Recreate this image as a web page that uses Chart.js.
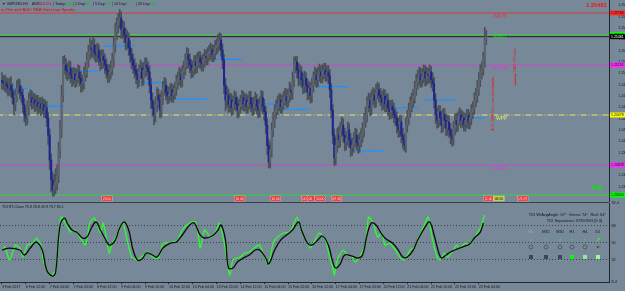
<!DOCTYPE html>
<html><head><meta charset="utf-8">
<script src="https://cdn.jsdelivr.net/npm/chart.js@4.4.1/dist/chart.umd.min.js"></script>
<style>
html,body{margin:0;padding:0;background:#778899;width:625px;height:291px;overflow:hidden}
#main{position:absolute;left:0;top:0}
#sub{position:absolute;left:0;top:196px}
</style></head><body>
<canvas id="main" width="625" height="202" style="width:625px;height:202px"></canvas>
<canvas id="sub" width="625" height="95" style="width:625px;height:95px"></canvas>
<script>
// ---------------- DATA (GBPUSD H1) ----------------
const opens = [
1.2492,1.2490,1.2488,1.2489,1.2485,1.2482,1.2486,1.2480,1.2470,1.2461,
1.2473,1.2482,1.2485,1.2477,1.2473,1.2461,1.2448,1.2444,1.2457,1.2467,
1.2470,1.2464,1.2467,1.2462,1.2464,1.2459,1.2462,1.2457,1.2461,1.2454,
1.2457,1.2444,1.2422,1.2390,1.2365,1.2352,1.2358,1.2362,1.2371,1.2403,
1.2429,1.2473,1.2512,1.2512,1.2505,1.2503,1.2508,1.2499,1.2495,1.2500,
1.2493,1.2498,1.2503,1.2495,1.2488,1.2490,1.2500,1.2505,1.2518,1.2528,
1.2534,1.2531,1.2537,1.2528,1.2525,1.2531,1.2521,1.2516,1.2523,1.2518,
1.2512,1.2505,1.2499,1.2503,1.2508,1.2518,1.2537,1.2554,1.2563,1.2569,
1.2572,1.2557,1.2559,1.2550,1.2541,1.2546,1.2534,1.2525,1.2518,1.2511,
1.2505,1.2499,1.2493,1.2503,1.2508,1.2495,1.2505,1.2512,1.2508,1.2503,
1.2486,1.2467,1.2457,1.2448,1.2461,1.2473,1.2467,1.2454,1.2470,1.2482,
1.2486,1.2477,1.2472,1.2475,1.2480,1.2473,1.2477,1.2482,1.2490,1.2495,
1.2499,1.2493,1.2503,1.2508,1.2516,1.2525,1.2518,1.2512,1.2505,1.2508,
1.2516,1.2511,1.2518,1.2521,1.2516,1.2513,1.2518,1.2523,1.2521,1.2526,
1.2528,1.2531,1.2525,1.2528,1.2534,1.2537,1.2541,1.2544,1.2531,1.2518,
1.2486,1.2467,1.2473,1.2461,1.2467,1.2457,1.2464,1.2470,1.2462,1.2454,
1.2459,1.2464,1.2470,1.2462,1.2467,1.2459,1.2464,1.2470,1.2462,1.2457,
1.2462,1.2467,1.2459,1.2454,1.2462,1.2470,1.2459,1.2452,1.2435,1.2409,
1.2388,1.2403,1.2429,1.2441,1.2452,1.2457,1.2462,1.2467,1.2459,1.2464,
1.2470,1.2472,1.2467,1.2473,1.2480,1.2477,1.2493,1.2512,1.2516,1.2505,
1.2495,1.2503,1.2493,1.2485,1.2495,1.2486,1.2477,1.2482,1.2473,1.2486,
1.2495,1.2499,1.2493,1.2500,1.2503,1.2498,1.2503,1.2505,1.2500,1.2503,
1.2498,1.2480,1.2454,1.2422,1.2393,1.2409,1.2422,1.2416,1.2429,1.2435,
1.2422,1.2413,1.2418,1.2429,1.2416,1.2406,1.2409,1.2416,1.2422,1.2413,
1.2409,1.2416,1.2422,1.2429,1.2441,1.2448,1.2461,1.2467,1.2457,1.2470,
1.2473,1.2467,1.2477,1.2480,1.2473,1.2470,1.2464,1.2472,1.2462,1.2467,
1.2457,1.2452,1.2459,1.2454,1.2448,1.2444,1.2435,1.2429,1.2439,1.2422,
1.2416,1.2409,1.2435,1.2444,1.2454,1.2461,1.2467,1.2472,1.2482,1.2490,
1.2495,1.2499,1.2493,1.2498,1.2503,1.2495,1.2500,1.2498,1.2503,1.2493,
1.2488,1.2467,1.2448,1.2441,1.2452,1.2444,1.2435,1.2448,1.2441,1.2431,
1.2439,1.2429,1.2422,1.2418,1.2431,1.2441,1.2436,1.2444,1.2448,1.2441,
1.2444,1.2436,1.2441,1.2447,1.2439,1.2444,1.2452,1.2457,1.2467,1.2473,
1.2482,1.2493,1.2503,1.2508,1.2518,1.2544];
const highs = [
1.2502,1.2498,1.2499,1.2496,1.2494,1.2495,1.2497,1.2488,1.2478,1.2481,
1.2492,1.2494,1.2493,1.2485,1.2481,1.2469,1.2457,1.2466,1.2476,1.2480,
1.2479,1.2476,1.2475,1.2473,1.2473,1.2470,1.2470,1.2471,1.2468,1.2467,
1.2465,1.2451,1.2430,1.2398,1.2375,1.2372,1.2379,1.2384,1.2413,1.2441,
1.2486,1.2523,1.2524,1.2520,1.2514,1.2517,1.2516,1.2508,1.2509,1.2508,
1.2507,1.2512,1.2511,1.2503,1.2499,1.2509,1.2515,1.2528,1.2537,1.2546,
1.2543,1.2548,1.2545,1.2538,1.2540,1.2538,1.2530,1.2532,1.2531,1.2526,
1.2520,1.2513,1.2512,1.2517,1.2527,1.2547,1.2565,1.2572,1.2578,1.2583,
1.2580,1.2569,1.2567,1.2559,1.2556,1.2553,1.2543,1.2533,1.2526,1.2520,
1.2514,1.2507,1.2512,1.2518,1.2515,1.2515,1.2521,1.2521,1.2516,1.2511,
1.2495,1.2476,1.2465,1.2471,1.2483,1.2481,1.2475,1.2479,1.2491,1.2496,
1.2494,1.2485,1.2484,1.2488,1.2488,1.2486,1.2490,1.2499,1.2503,1.2509,
1.2507,1.2511,1.2517,1.2526,1.2534,1.2533,1.2526,1.2519,1.2517,1.2524,
1.2524,1.2527,1.2529,1.2529,1.2524,1.2526,1.2532,1.2531,1.2534,1.2537,
1.2540,1.2538,1.2537,1.2543,1.2545,1.2551,1.2553,1.2552,1.2539,1.2525,
1.2495,1.2484,1.2481,1.2476,1.2475,1.2472,1.2479,1.2477,1.2471,1.2468,
1.2473,1.2479,1.2478,1.2475,1.2475,1.2473,1.2478,1.2478,1.2470,1.2471,
1.2477,1.2474,1.2468,1.2471,1.2479,1.2478,1.2468,1.2459,1.2443,1.2417,
1.2413,1.2438,1.2451,1.2461,1.2467,1.2472,1.2475,1.2475,1.2473,1.2478,
1.2482,1.2481,1.2481,1.2490,1.2488,1.2503,1.2522,1.2523,1.2523,1.2514,
1.2512,1.2510,1.2501,1.2504,1.2502,1.2494,1.2491,1.2489,1.2495,1.2503,
1.2509,1.2507,1.2509,1.2513,1.2511,1.2512,1.2514,1.2514,1.2511,1.2511,
1.2506,1.2488,1.2461,1.2430,1.2419,1.2431,1.2433,1.2438,1.2445,1.2443,
1.2431,1.2427,1.2439,1.2437,1.2424,1.2418,1.2425,1.2431,1.2430,1.2422,
1.2425,1.2430,1.2438,1.2450,1.2458,1.2471,1.2476,1.2475,1.2479,1.2483,
1.2481,1.2487,1.2490,1.2488,1.2482,1.2478,1.2481,1.2480,1.2475,1.2475,
1.2466,1.2467,1.2467,1.2463,1.2456,1.2452,1.2444,1.2447,1.2447,1.2431,
1.2424,1.2444,1.2454,1.2463,1.2471,1.2476,1.2481,1.2491,1.2500,1.2505,
1.2509,1.2508,1.2507,1.2512,1.2511,1.2509,1.2508,1.2512,1.2510,1.2502,
1.2496,1.2475,1.2457,1.2460,1.2460,1.2453,1.2456,1.2456,1.2449,1.2447,
1.2447,1.2437,1.2430,1.2440,1.2449,1.2450,1.2452,1.2457,1.2455,1.2453,
1.2451,1.2450,1.2455,1.2455,1.2452,1.2461,1.2465,1.2476,1.2482,1.2492,
1.2502,1.2512,1.2516,1.2528,1.2560,1.2556];
const lows = [
1.2481,1.2480,1.2478,1.2476,1.2472,1.2473,1.2471,1.2462,1.2448,1.2453,
1.2465,1.2475,1.2468,1.2464,1.2451,1.2439,1.2434,1.2436,1.2448,1.2459,
1.2455,1.2456,1.2452,1.2453,1.2449,1.2451,1.2447,1.2449,1.2445,1.2444,
1.2433,1.2410,1.2378,1.2350,1.2344,1.2344,1.2347,1.2352,1.2361,1.2393,
1.2419,1.2465,1.2500,1.2494,1.2492,1.2494,1.2489,1.2484,1.2486,1.2483,
1.2484,1.2489,1.2485,1.2477,1.2478,1.2481,1.2491,1.2496,1.2509,1.2519,
1.2521,1.2522,1.2518,1.2515,1.2516,1.2511,1.2505,1.2507,1.2508,1.2501,
1.2495,1.2489,1.2490,1.2494,1.2499,1.2509,1.2528,1.2544,1.2553,1.2559,
1.2546,1.2546,1.2540,1.2531,1.2532,1.2524,1.2515,1.2507,1.2501,1.2495,
1.2488,1.2482,1.2484,1.2494,1.2485,1.2486,1.2496,1.2498,1.2493,1.2476,
1.2456,1.2446,1.2435,1.2439,1.2452,1.2457,1.2444,1.2445,1.2461,1.2473,
1.2467,1.2462,1.2463,1.2466,1.2464,1.2464,1.2468,1.2473,1.2481,1.2486,
1.2483,1.2484,1.2494,1.2499,1.2507,1.2508,1.2502,1.2495,1.2496,1.2499,
1.2501,1.2502,1.2509,1.2507,1.2504,1.2504,1.2509,1.2512,1.2512,1.2517,
1.2519,1.2516,1.2516,1.2519,1.2525,1.2528,1.2531,1.2522,1.2507,1.2475,
1.2453,1.2457,1.2451,1.2452,1.2447,1.2448,1.2455,1.2453,1.2444,1.2445,
1.2450,1.2455,1.2453,1.2453,1.2450,1.2450,1.2455,1.2452,1.2447,1.2448,
1.2453,1.2449,1.2444,1.2445,1.2453,1.2449,1.2441,1.2424,1.2397,1.2380,
1.2380,1.2394,1.2420,1.2432,1.2443,1.2448,1.2453,1.2450,1.2450,1.2455,
1.2461,1.2457,1.2458,1.2464,1.2467,1.2468,1.2484,1.2502,1.2495,1.2485,
1.2486,1.2483,1.2475,1.2476,1.2477,1.2467,1.2468,1.2463,1.2464,1.2477,
1.2486,1.2483,1.2484,1.2491,1.2489,1.2489,1.2494,1.2491,1.2491,1.2488,
1.2470,1.2444,1.2411,1.2383,1.2384,1.2400,1.2406,1.2407,1.2420,1.2413,
1.2402,1.2403,1.2409,1.2406,1.2395,1.2396,1.2400,1.2407,1.2403,1.2399,
1.2400,1.2407,1.2413,1.2420,1.2432,1.2439,1.2452,1.2447,1.2448,1.2461,
1.2457,1.2458,1.2468,1.2464,1.2460,1.2454,1.2455,1.2452,1.2452,1.2447,
1.2442,1.2443,1.2444,1.2438,1.2434,1.2425,1.2419,1.2420,1.2412,1.2405,
1.2402,1.2400,1.2426,1.2435,1.2445,1.2452,1.2458,1.2463,1.2473,1.2481,
1.2486,1.2483,1.2484,1.2489,1.2485,1.2486,1.2488,1.2489,1.2483,1.2478,
1.2457,1.2437,1.2431,1.2432,1.2434,1.2425,1.2426,1.2431,1.2421,1.2422,
1.2419,1.2411,1.2408,1.2409,1.2422,1.2426,1.2427,1.2435,1.2432,1.2432,
1.2427,1.2427,1.2432,1.2430,1.2430,1.2435,1.2443,1.2448,1.2458,1.2464,
1.2473,1.2484,1.2494,1.2499,1.2509,1.2538];
const closes = [
1.2490,1.2488,1.2489,1.2485,1.2482,1.2486,1.2480,1.2470,1.2461,1.2473,
1.2482,1.2485,1.2477,1.2473,1.2461,1.2448,1.2444,1.2457,1.2467,1.2470,
1.2464,1.2467,1.2462,1.2464,1.2459,1.2462,1.2457,1.2461,1.2454,1.2457,
1.2444,1.2422,1.2390,1.2365,1.2352,1.2358,1.2362,1.2371,1.2403,1.2429,
1.2473,1.2512,1.2512,1.2505,1.2503,1.2508,1.2499,1.2495,1.2500,1.2493,
1.2498,1.2503,1.2495,1.2488,1.2490,1.2500,1.2505,1.2518,1.2528,1.2534,
1.2531,1.2537,1.2528,1.2525,1.2531,1.2521,1.2516,1.2523,1.2518,1.2512,
1.2505,1.2499,1.2503,1.2508,1.2518,1.2537,1.2554,1.2563,1.2569,1.2572,
1.2557,1.2559,1.2550,1.2541,1.2546,1.2534,1.2525,1.2518,1.2511,1.2505,
1.2499,1.2493,1.2503,1.2508,1.2495,1.2505,1.2512,1.2508,1.2503,1.2486,
1.2467,1.2457,1.2448,1.2461,1.2473,1.2467,1.2454,1.2470,1.2482,1.2486,
1.2477,1.2472,1.2475,1.2480,1.2473,1.2477,1.2482,1.2490,1.2495,1.2499,
1.2493,1.2503,1.2508,1.2516,1.2525,1.2518,1.2512,1.2505,1.2508,1.2516,
1.2511,1.2518,1.2521,1.2516,1.2513,1.2518,1.2523,1.2521,1.2526,1.2528,
1.2531,1.2525,1.2528,1.2534,1.2537,1.2541,1.2544,1.2531,1.2518,1.2486,
1.2467,1.2473,1.2461,1.2467,1.2457,1.2464,1.2470,1.2462,1.2454,1.2459,
1.2464,1.2470,1.2462,1.2467,1.2459,1.2464,1.2470,1.2462,1.2457,1.2462,
1.2467,1.2459,1.2454,1.2462,1.2470,1.2459,1.2452,1.2435,1.2409,1.2388,
1.2403,1.2429,1.2441,1.2452,1.2457,1.2462,1.2467,1.2459,1.2464,1.2470,
1.2472,1.2467,1.2473,1.2480,1.2477,1.2493,1.2512,1.2516,1.2505,1.2495,
1.2503,1.2493,1.2485,1.2495,1.2486,1.2477,1.2482,1.2473,1.2486,1.2495,
1.2499,1.2493,1.2500,1.2503,1.2498,1.2503,1.2505,1.2500,1.2503,1.2498,
1.2480,1.2454,1.2422,1.2393,1.2409,1.2422,1.2416,1.2429,1.2435,1.2422,
1.2413,1.2418,1.2429,1.2416,1.2406,1.2409,1.2416,1.2422,1.2413,1.2409,
1.2416,1.2422,1.2429,1.2441,1.2448,1.2461,1.2467,1.2457,1.2470,1.2473,
1.2467,1.2477,1.2480,1.2473,1.2470,1.2464,1.2472,1.2462,1.2467,1.2457,
1.2452,1.2459,1.2454,1.2448,1.2444,1.2435,1.2429,1.2439,1.2422,1.2416,
1.2409,1.2435,1.2444,1.2454,1.2461,1.2467,1.2472,1.2482,1.2490,1.2495,
1.2499,1.2493,1.2498,1.2503,1.2495,1.2500,1.2498,1.2503,1.2493,1.2488,
1.2467,1.2448,1.2441,1.2452,1.2444,1.2435,1.2448,1.2441,1.2431,1.2439,
1.2429,1.2422,1.2418,1.2431,1.2441,1.2436,1.2444,1.2448,1.2441,1.2444,
1.2436,1.2441,1.2447,1.2439,1.2444,1.2452,1.2457,1.2467,1.2473,1.2482,
1.2493,1.2503,1.2508,1.2518,1.2544,1.2548];

// price axis ticks and levels
const mainTicks = [1.25880,1.25735,1.25590,1.25445,1.25300,1.25155,1.25010,1.24865,1.24720,1.24575,1.24430,1.24285,1.24140,1.23995,1.23850,1.23705,1.23560];
const levelNames  = ['WR78','WR61','WR38','WPP','WS38','0.0'];
const levelPrices = [1.25784,1.25508,1.25118,1.24478,1.23838,1.23454];
const bidPrice = 1.25481;

// daily pivot segments (blue): start bar, end bar, price
const segStart = [0,20,40,68,91,115,143,166,187,211,234,259,283,307];
const segEnd   = [18,42,66,89,111,138,161,185,207,232,256,279,304,324];
const segLevel = [1.2482,1.2459,1.2504,1.2536,1.2489,1.2468,1.2519,1.2462,1.2455,1.2484,1.2402,1.2457,1.2467,1.2444];

// news events (bar index, time)
const eventBars  = [67,156,180,201,205,210,221,323,330,346];
const eventTimes = ['20:00','10:00','10:00','00:','00:','10:00','09:30','11:00','06:00','09:29'];
const annTexts = ['AUD: RBA Gov Lowe Speaks','CAD: CPI m/m'];
const annBars  = [329.5,344.5];

// TDI sub-window
const tdiGreenBars = [0,2,5,9,12,14,17,21,23,26,28,31,33,36,38,39,40,44,46,49,52,56,59,62,66,68,71,72,74,78,81,84,87,91,95,98,101,105,108,111,115,118,121,126,130,132,133,136,140,143,146,150,152,153,155,160,163,166,170,173,177,179,182,185,189,193,195,198,201,203,207,210,213,217,220,222,223,225,229,232,235,237,240,244,246,248,250,252,255,257,260,264,267,270,274,277,281,284,286,289,292,294,297,299,303,305,307,311,314,316,319,321,324];
const tdiGreenVals = [42.4,45.6,31.8,47.7,44.5,34.9,47.7,49.8,55.2,47.7,29.6,19.0,14.7,21.1,47.7,74.3,77.5,66.9,61.5,63.7,56.2,47.7,71.1,76.4,60.5,71.1,45.6,39.2,49.8,60.5,72.2,53.0,34.9,31.8,37.1,40.3,34.9,33.9,49.8,49.8,50.9,53.0,63.7,71.1,72.2,55.2,44.5,63.7,56.2,60.5,71.1,42.4,21.1,15.8,31.8,34.9,39.2,40.3,45.6,47.7,31.8,26.4,49.8,56.2,60.5,61.5,66.9,77.5,63.7,56.2,44.5,53.0,60.5,53.0,34.9,23.3,15.8,31.8,42.4,37.1,34.9,29.6,34.9,49.8,77.5,74.3,66.9,56.2,60.5,47.7,49.8,42.4,34.9,31.8,42.4,45.6,60.5,71.1,77.5,53.0,34.9,31.8,39.2,34.9,42.4,47.7,44.5,49.8,47.7,53.0,60.5,65.8,79.6];
const tdiBlackBars = [0,5,12,15,19,23,27,30,34,36,39,42,44,47,50,54,57,60,63,66,69,72,76,79,82,85,88,91,94,97,101,104,108,113,117,121,126,129,133,136,141,145,147,150,152,155,158,162,166,170,173,177,179,183,187,191,195,199,201,205,208,212,215,219,222,224,227,230,235,239,242,245,248,251,254,257,262,266,269,272,276,279,284,287,290,293,295,298,301,304,307,311,314,317,321,323];
const tdiBlackVals = [42.4,44.5,42.4,37.1,44.5,50.9,42.4,21.1,14.7,19.0,69.0,76.4,70.1,63.7,61.5,55.2,56.2,65.8,72.2,63.7,55.2,47.7,53.0,65.8,72.2,63.7,42.4,31.8,32.8,39.2,37.1,34.9,44.5,49.8,50.9,58.4,69.0,71.1,58.4,55.2,57.3,63.7,69.0,53.0,23.3,23.3,29.6,33.9,37.1,42.4,42.4,33.9,27.5,42.4,53.0,58.4,63.7,72.2,63.7,49.8,47.7,53.0,57.3,47.7,29.6,23.3,27.5,37.1,36.0,33.9,37.1,58.4,71.1,69.0,61.5,55.2,49.8,42.4,34.9,34.9,42.4,53.0,66.9,72.2,58.4,40.3,33.9,37.1,40.3,42.4,44.5,46.7,48.8,55.2,61.5,71.1];
const subTicks = [8.4,32,50,68,92.4];
const subGridVals = [32,50,68];
const xTickBars = [0,16,32,48,64,80,96,112,128,144,160,176,192,208,224,240,256,272,288,304,320];
const xTickLabels = ['3 Feb 2017','6 Feb 12:00','7 Feb 04:00','7 Feb 20:00','8 Feb 12:00','9 Feb 04:00','9 Feb 20:00','10 Feb 12:00','13 Feb 04:00','13 Feb 20:00','14 Feb 12:00','15 Feb 04:00','15 Feb 20:00','16 Feb 12:00','17 Feb 04:00','17 Feb 20:00','20 Feb 12:00','21 Feb 04:00','21 Feb 20:00','22 Feb 12:00','23 Feb 04:00'];
const tfNames = ['M5','M15','M30','H1','H4','D1'];
const tfArrows = ['↑','↑','↑','↑','↑','↗'];
const tfSquares = ['#2f4f4f','#2f4f4f','#2f4f4f','#00ff00','#90ee90','#98fb98'];

// ---------------- STYLE ----------------
const FONT = '"Liberation Sans","DejaVu Sans",Arial,sans-serif';
const X_MIN = -1.342, X_MAX = 407.38;
const Y_MAX = 1.2595, Y_MIN = 1.2595 - 202 * 0.000128;
const levelColors = ['#d83a3a','#36d236','#c84ac8','#e8e86a','#c84ac8','#36d236'];
const boxColors = ['#ff2a2a','#00ff00','#ff2aff','#ffff00','#ff2aff','#00ff00'];
const BULL = '#5e656e', BEAR = '#1d2690', WICK = '#4a5058';

function txt(ctx, s, x, y, color, size, o = {}) {
  ctx.font = (o.bold ? 'bold ' : '') + size + 'px ' + FONT;
  ctx.fillStyle = color;
  ctx.textAlign = o.align || 'left';
  ctx.textBaseline = 'middle';
  ctx.fillText(s, x, y);
}

const idx = closes.map((_, i) => i);
const wickData = idx.map(i => ({x: i, y: [Math.min(lows[i], opens[i], closes[i]), Math.max(highs[i], opens[i], closes[i])]}));
const bodyData = idx.map(i => ({x: i, y: [opens[i], closes[i]]}));
const bodyColors = idx.map(i => closes[i] < opens[i] ? BEAR : BULL);

const lineDs = (p, color, w, dash) => ({type: 'line', data: [{x: -3, y: p}, {x: 412, y: p}], borderColor: color, borderWidth: w, borderDash: dash || [], pointRadius: 0, order: 5});
const datasets = [];
levelPrices.forEach((p, k) => datasets.push(lineDs(p, levelColors[k], 1, k === 3 ? [6, 2, 1, 2] : [])));
datasets.push(lineDs(bidPrice, '#30343a', 1.3));
segStart.forEach((s, k) => datasets.push({type: 'line', data: [{x: s, y: segLevel[k]}, {x: segEnd[k], y: segLevel[k]}], borderColor: '#1e90ff', borderWidth: 1.3, pointRadius: 0, order: 4}));
datasets.push({type: 'bar', data: wickData, backgroundColor: WICK, barThickness: 1, grouped: false, borderWidth: 0, order: 2});
datasets.push({type: 'bar', data: bodyData, backgroundColor: bodyColors, barThickness: 1.4, grouped: false, borderWidth: 0, minBarLength: 1, order: 1});

const mainDeco = {
  id: 'mainDeco',
  afterDraw(chart) {
    const {ctx, scales: {x, y}} = chart;
    ctx.save();
    const hp = [['▼ GBPUSD,H1', 2, '#15181c'], ['ADR', 32, '#15181c'], ['114.2%', 39, '#e00000'], ['| Today:', 53, '#15181c'], ['118', 66, '#00d000'],
      ['| 1 Day:', 73, '#15181c'], ['86', 86, '#00d000'], ['| 5 Day:', 93, '#15181c'], ['86', 106, '#00d000'],
      ['| 10 Day:', 112, '#15181c'], ['77', 126, '#00d000'], ['| 20 Day:', 136, '#15181c'], ['86', 152, '#00d000']];
    hp.forEach(p => txt(ctx, p[0], p[1], 4, p[2], 3.7));
    txt(ctx, 'in 29m until AUD: RBA Gov Lowe Speaks', 1, 9.5, '#e00000', 4);
    levelNames.forEach((n, k) => {
      const py = y.getPixelForValue(levelPrices[k]);
      if (n === '0.0') txt(ctx, n, x.getPixelForValue(399.3), py - 7.5, '#00ee00', 8, {bold: true, align: 'center'});
      else txt(ctx, n, x.getPixelForValue(329.5) + (n === 'WPP' ? 3 : 0), py + 3.2, levelColors[k], 5);
    });
    txt(ctx, bidPrice.toFixed(5), 607, 5, '#ff1010', 5.8, {bold: true, align: 'right'});
    const boxes = levelPrices.map((p, k) => [p, boxColors[k]]).concat([[bidPrice, '#000000']]);
    boxes.forEach(([p, c]) => {
      const py = y.getPixelForValue(p);
      ctx.fillStyle = c; ctx.fillRect(610, py - 2.5, 15, 5);
      txt(ctx, p.toFixed(5), 611, py + 0.2, c === '#000000' ? '#ffffff' : '#111111', 3.5);
    });
    eventBars.forEach((b, k) => {
      const px = x.getPixelForValue(b);
      ctx.font = '3.4px ' + FONT;
      const w = ctx.measureText(eventTimes[k]).width + 2;
      ctx.fillStyle = k === 8 ? '#b9cc3c' : '#e8222a';
      ctx.fillRect(px, 196, w, 5);
      ctx.strokeStyle = 'rgba(255,220,220,0.8)'; ctx.lineWidth = 0.5; ctx.strokeRect(px, 196, w, 5);
      txt(ctx, eventTimes[k], px + 1, 198.6, k === 8 ? '#1a1a1a' : '#ffffff', 3.4);
    });
    ctx.strokeStyle = '#e02020'; ctx.lineWidth = 1;
    const ax0 = x.getPixelForValue(annBars[0]), ax1 = x.getPixelForValue(annBars[1]);
    ctx.beginPath(); ctx.moveTo(ax0, 77); ctx.lineTo(ax0, 86); ctx.moveTo(ax1, 73); ctx.lineTo(ax1, 85); ctx.stroke();
    ctx.save(); ctx.translate(ax0, 131); ctx.rotate(-Math.PI / 2); txt(ctx, annTexts[0], 0, 0, '#e02020', 3.6); ctx.restore();
    ctx.save(); ctx.translate(ax1, 72); ctx.rotate(-Math.PI / 2); txt(ctx, annTexts[1], 0, 0, '#e02020', 3.6); ctx.restore();
    ctx.restore();
  }
};

new Chart(document.getElementById('main'), {
  type: 'bar',
  data: {datasets},
  options: {
    responsive: false, animation: false, devicePixelRatio: 1,
    layout: {padding: 0},
    plugins: {legend: {display: false}, tooltip: {enabled: false}},
    scales: {
      x: {type: 'linear', display: false, min: X_MIN, max: X_MAX, offset: false},
      y: {
        position: 'right', min: Y_MIN, max: Y_MAX,
        grid: {display: false},
        border: {display: true, color: '#23272d', width: 1},
        ticks: {color: '#15181c', font: {size: 3.5, family: FONT}, padding: 1.5, callback: v => Number(v).toFixed(5)},
        afterBuildTicks: s => { s.ticks = mainTicks.map(v => ({value: v})); },
        afterFit: s => { s.width = 16; s.paddingTop = 0; s.paddingBottom = 0; }
      }
    }
  },
  plugins: [mainDeco]
});

const subDeco = {
  id: 'subDeco',
  afterDraw(chart) {
    const {ctx, chartArea: a} = chart;
    ctx.save();
    ctx.strokeStyle = '#3b4047'; ctx.lineWidth = 1;
    ctx.beginPath(); ctx.moveTo(0, a.top - 0.5); ctx.lineTo(a.right, a.top - 0.5); ctx.stroke();
    const T = a.top;
    txt(ctx, 'TDI RT-Clone 75.8 28.8 49.8 73.7 80.1', 2, T + 4, '#15181c', 3.6);
    txt(ctx, 'TDI W/AvgAngle: 67°  Green: 74°  Red: 64°', 606, T + 12, '#15181c', 4, {align: 'right'});
    txt(ctx, 'TDI Separation: STRONG [9.3]', 602, T + 18, '#15181c', 4, {align: 'right'});
    const cx = [531, 546, 560, 572, 585, 598];
    tfNames.forEach((n, k) => {
      txt(ctx, n, cx[k], T + 29, k === 0 ? '#9aa4ae' : '#15181c', 3.9, {align: 'center'});
      txt(ctx, tfArrows[k], cx[k], T + 37, '#22ff22', 6, {bold: true, align: 'center'});
      ctx.beginPath(); ctx.arc(cx[k], T + 44, k === 5 ? 1.3 : 2, 0, Math.PI * 2);
      if (k === 5) { ctx.fillStyle = '#50565e'; ctx.fill(); } else { ctx.strokeStyle = '#4a5058'; ctx.lineWidth = 0.8; ctx.stroke(); }
      ctx.fillStyle = tfSquares[k]; ctx.fillRect(cx[k] - 2, T + 52, 4, 4);
    });
    ctx.restore();
  }
};

new Chart(document.getElementById('sub'), {
  type: 'line',
  data: {datasets: [
    {data: tdiGreenBars.map((b, i) => ({x: b, y: tdiGreenVals[i]})), borderColor: '#2bff2b', borderWidth: 1.3, pointRadius: 0, tension: 0.2, order: 1},
    {data: tdiBlackBars.map((b, i) => ({x: b, y: tdiBlackVals[i]})), borderColor: '#0a0a0a', borderWidth: 1.3, pointRadius: 0, tension: 0.4, order: 0}
  ]},
  options: {
    responsive: false, animation: false, devicePixelRatio: 1,
    layout: {padding: {top: 7, left: 0, right: 0, bottom: 0}},
    plugins: {legend: {display: false}, tooltip: {enabled: false}},
    scales: {
      x: {
        type: 'linear', min: X_MIN, max: X_MAX, offset: false,
        grid: {drawOnChartArea: false, drawTicks: true, tickLength: 2, color: '#23272d'},
        border: {display: true, color: '#23272d'},
        ticks: {color: '#15181c', font: {size: 3.6, family: FONT}, padding: 1, align: 'start', maxRotation: 0, autoSkip: false,
          callback: v => { const k = xTickBars.indexOf(v); return k < 0 ? '' : xTickLabels[k]; }},
        afterBuildTicks: s => { s.ticks = xTickBars.map(v => ({value: v})); },
        afterFit: s => { s.height = 9; s.paddingLeft = 0; s.paddingRight = 0; }
      },
      y: {
        position: 'right', min: 8.4, max: 92.4,
        grid: {color: c => subGridVals.includes(c.tick && c.tick.value) ? 'rgba(45,48,54,0.8)' : 'rgba(0,0,0,0)', drawTicks: false, lineWidth: 1},
        border: {display: true, color: '#23272d', dash: [1, 2]},
        ticks: {color: '#15181c', font: {size: 3.8, family: FONT}, padding: 2.5, callback: v => String(v)},
        afterBuildTicks: s => { s.ticks = subTicks.map(v => ({value: v})); },
        afterFit: s => { s.width = 16; s.paddingTop = 0; s.paddingBottom = 0; }
      }
    }
  },
  plugins: [subDeco]
});
</script>
</body></html>
